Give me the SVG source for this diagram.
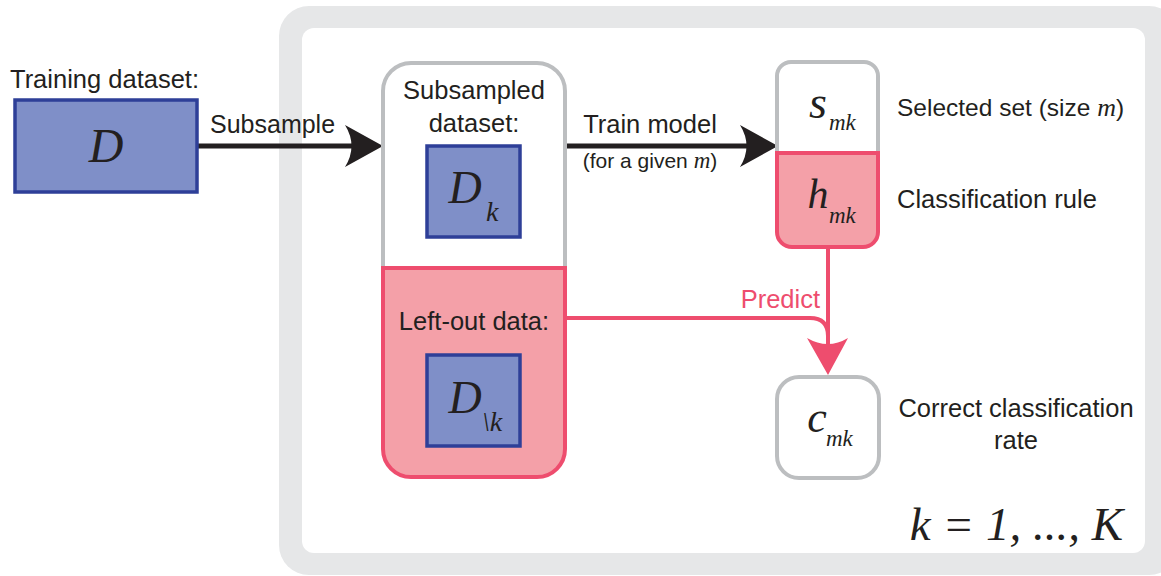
<svg xmlns="http://www.w3.org/2000/svg" width="1161" height="576" viewBox="0 0 1161 576">
<style>
.t{font-family:"Liberation Sans",Arial,sans-serif;font-size:25.5px;fill:#231f20}
.ts{font-family:"Liberation Sans",Arial,sans-serif;font-size:21px;fill:#231f20}
.m{font-family:"Liberation Serif","Times New Roman",serif;font-style:italic;fill:#231f20}
.blue{fill:#7f8fc8;stroke:#2e3f98;stroke-width:3.5}
.gray{fill:#ffffff;stroke:#bcbec0;stroke-width:4}
.pink{fill:#f4a0a8;stroke:#ee4d6e;stroke-width:4}
.blk{stroke:#231f20;stroke-width:5;fill:none}
.blkh{fill:#231f20}
.pl{stroke:#ee4d6e;stroke-width:4;fill:none}
.plh{fill:#ee4d6e}
</style>
<g id="frame">
<rect x="279" y="6" width="900" height="569" rx="30" fill="#e6e7e8"/>
<rect x="302" y="28" width="843" height="525" rx="12" fill="#ffffff"/>
</g>
<g id="connectors">
<line class="blk" x1="197" y1="146" x2="365" y2="146"/>
<path class="blkh" d="M383,146 L345,125 Q358,146 345,167 Z"/>
<line class="blk" x1="565" y1="146" x2="760" y2="146"/>
<path class="blkh" d="M778,146 L740,125 Q753,146 740,167 Z"/>
<path class="pl" d="M828,247 V355"/>
<path class="pl" d="M565,318 H810 Q828,318 828,336"/>
<path class="plh" d="M828,375 L807,338 Q828,350 848,338 Z"/>
<text class="t" x="210" y="133" style="font-size:25px">Subsample</text>
<text class="t" x="650" y="133" text-anchor="middle">Train model</text>
<text class="ts" x="650" y="168" text-anchor="middle">(for a given <tspan class="m" font-size="23">m</tspan>)</text>
<text class="t" x="820" y="308" text-anchor="end" style="fill:#ee4d6e">Predict</text>
</g>
<g id="node-D">
<text class="t" x="10" y="88">Training dataset:</text>
<rect class="blue" x="15" y="100" width="182" height="92"/>
<text class="m" x="106" y="162" font-size="48" text-anchor="middle">D</text>
</g>
<g id="node-subsampled">
<path class="gray" d="M383,268 V91 A28,28 0 0 1 411,63 H537 A28,28 0 0 1 565,91 V268"/>
<path class="pink" d="M383,268 H565 V449 A28,28 0 0 1 537,477 H411 A28,28 0 0 1 383,449 Z"/>
<text class="t" x="474" y="99" text-anchor="middle">Subsampled</text>
<text class="t" x="474" y="132" text-anchor="middle">dataset:</text>
<rect class="blue" x="427" y="146" width="93" height="91"/>
<text class="m" x="465" y="203" font-size="46" text-anchor="middle">D</text>
<text class="m" x="486" y="221" font-size="28">k</text>
<text class="t" x="474" y="330" text-anchor="middle">Left-out data:</text>
<rect class="blue" x="427" y="355" width="93" height="91"/>
<text class="m" x="465" y="413" font-size="46" text-anchor="middle">D</text>
<text class="m" x="482" y="431" font-size="28">\k</text>
</g>
<g id="node-sh">
<path class="gray" d="M777,153 V76 A14,14 0 0 1 791,62 H864 A14,14 0 0 1 878,76 V153"/>
<path class="pink" d="M777,153 H878 V232 A15,15 0 0 1 863,247 H792 A15,15 0 0 1 777,232 Z"/>
<text class="m" x="818" y="118" font-size="46" text-anchor="middle">s</text>
<text class="m" x="829" y="130" font-size="23">mk</text>
<text class="m" x="818" y="208" font-size="42" text-anchor="middle">h</text>
<text class="m" x="829" y="223" font-size="23">mk</text>
<text class="t" x="897" y="116" style="font-size:24.5px">Selected set (size <tspan class="m" font-size="26">m</tspan>)</text>
<text class="t" x="897" y="208">Classification rule</text>
</g>
<g id="node-c">
<rect class="gray" x="777" y="377" width="102" height="101" rx="22"/>
<text class="m" x="817" y="432" font-size="44" text-anchor="middle">c</text>
<text class="m" x="826" y="446" font-size="23">mk</text>
<text class="t" x="1016" y="417" text-anchor="middle">Correct classification</text>
<text class="t" x="1016" y="449" text-anchor="middle">rate</text>
</g>
<text class="m" x="1123" y="540" font-size="47" text-anchor="end">k = 1, ..., K</text>
</svg>
